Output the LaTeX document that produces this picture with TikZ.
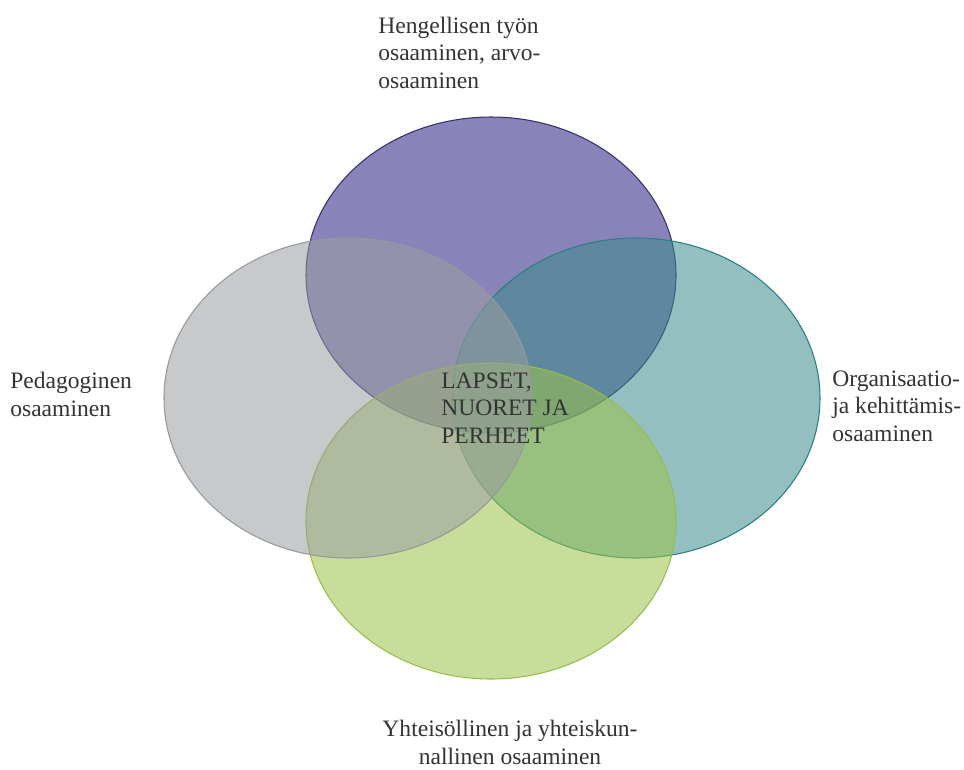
\documentclass[tikz,border=0pt]{standalone}
\usepackage{fontspec}
\setmainfont{Liberation Serif}

\begin{document}
\begin{tikzpicture}[x=0.02cm,y=-0.02cm]
  \tikzset{
    venn/.style={fill opacity=0.55, line width=0.6pt},
    label/.style={font=\fontsize{13.4}{15.4}\selectfont, align=left, inner sep=0pt, text=black!80}
  }
  \definecolor{spiritfill}{RGB}{42,30,130}
  \definecolor{spiritline}{RGB}{50,48,112}
  \definecolor{pedafill}{RGB}{155,157,160}
  \definecolor{pedaline}{RGB}{150,152,156}
  \definecolor{orgfill}{RGB}{59,139,140}
  \definecolor{orgline}{RGB}{38,128,132}
  \definecolor{commfill}{RGB}{157,193,73}
  \definecolor{commline}{RGB}{150,190,70}

  \useasboundingbox (0,0) rectangle (964,769);

  % Four overlapping circles
  \draw[venn, fill=spiritfill, draw=spiritline] (491,275) ellipse [x radius=185, y radius=158];
  \draw[venn, fill=orgfill, draw=orgline] (636,398) ellipse [x radius=184, y radius=160];
  \draw[venn, fill=commfill, draw=commline] (491,521) ellipse [x radius=185, y radius=158];
  \draw[venn, fill=pedafill, draw=pedaline] (348,398) ellipse [x radius=184, y radius=160];

  % Centre
  \node[label, anchor=base west] (core) at (441,443) {LAPSET,\\NUORET JA\\PERHEET};

  % Outer labels
  \node[label, anchor=base west] (spirit) at (378,88) {Hengellisen työn\\osaaminen, arvo-\\osaaminen};
  \node[label, anchor=base west] (peda) at (10,416) {Pedagoginen\\osaaminen};
  \node[label, anchor=base west] (org) at (832,441) {Organisaatio-\\ja kehittämis-\\osaaminen};
  \node[label, align=center, anchor=base] (comm) at (510,764) {Yhteisöllinen ja yhteiskun-\\nallinen osaaminen};
\end{tikzpicture}
\end{document}
